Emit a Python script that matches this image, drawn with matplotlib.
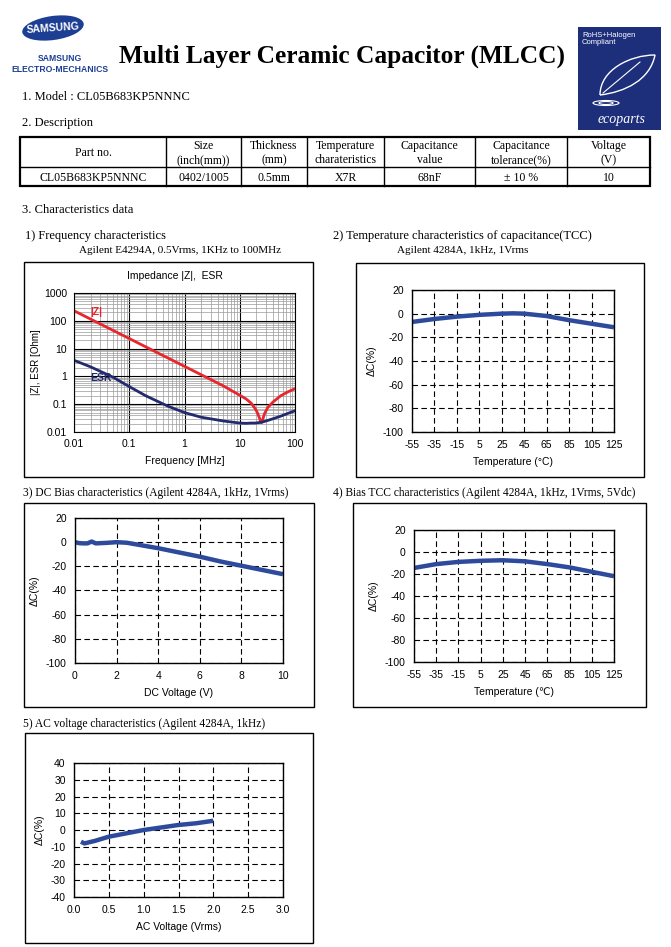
import matplotlib
matplotlib.use("Agg")
import matplotlib.pyplot as plt
from matplotlib.patches import Rectangle, Ellipse, PathPatch
from matplotlib.path import Path
from matplotlib.ticker import FixedLocator, NullFormatter, LogLocator

plt.rcParams["axes.unicode_minus"] = False

# ---------------- data ----------------
table_headers = ["Part no.", "Size\n(inch(mm))", "Thickness\n(mm)", "Temperature\ncharateristics",
                 "Capacitance\nvalue", "Capacitance\ntolerance(%)", "Voltage\n(V)"]
table_values = ["CL05B683KP5NNNC", "0402/1005", "0.5mm", "X7R", "68nF", "\u00b1 10 %", "10"]

freq_mhz = [0.01, 0.02, 0.05, 0.1, 0.2, 0.5, 1, 2, 5, 10, 13, 16, 19, 21, 23, 24, 25, 26, 28, 32, 40, 55, 75, 100]
z_ohm = [230, 115, 46, 23, 11.5, 4.6, 2.3, 1.15, 0.46, 0.21, 0.155, 0.11, 0.07, 0.048, 0.03, 0.023, 0.022, 0.028, 0.045, 0.075, 0.12, 0.2, 0.28, 0.36]
esr_ohm = [3.8, 2.2, 0.95, 0.43, 0.2, 0.085, 0.05, 0.034, 0.025, 0.021, 0.0205, 0.021, 0.021, 0.0215, 0.022, 0.0222, 0.0225, 0.023, 0.024, 0.026, 0.03, 0.037, 0.047, 0.058]
freq_ticks = [0.01, 0.1, 1, 10, 100]
freq_ticklabels = ["0.01", "0.1", "1", "10", "100"]
imp_ticks = [0.01, 0.1, 1, 10, 100, 1000]
imp_ticklabels = ["0.01", "0.1", "1", "10", "100", "1000"]

tcc_temp = [-55, -35, -15, 5, 25, 35, 45, 65, 85, 105, 125]
tcc_dc = [-7, -4.5, -2.5, -1, 0, 0.3, 0, -2, -5.5, -8.5, -11.5]

dcb_volt = [0, 0.2, 0.4, 0.6, 0.8, 1.0, 1.5, 2.0, 2.5, 3.0, 4.0, 5.0, 6.0, 7.0, 8.0, 9.0, 10.0]
dcb_dc = [0, -0.8, -1, -1, 0.5, -1, -0.6, 0, -0.5, -2, -5, -8.5, -12, -16, -19.5, -23, -26.5]

btcc_temp = [-55, -35, -15, 5, 25, 45, 65, 85, 105, 125]
btcc_dc = [-14.5, -11, -9, -8, -7.5, -8.5, -11, -14, -18, -22]

acv_volt = [0.1, 0.15, 0.3, 0.5, 0.75, 1.0, 1.25, 1.5, 1.75, 2.0]
acv_dc = [-7, -8, -6.5, -4, -2, 0, 1.5, 3, 4, 5.5]

temp_ticks = [-55, -35, -15, 5, 25, 45, 65, 85, 105, 125]
dc_ticks_100 = [-100, -80, -60, -40, -20, 0, 20]
dcv_ticks = [0, 2, 4, 6, 8, 10]
acv_ticks = [0.0, 0.5, 1.0, 1.5, 2.0, 2.5, 3.0]
acv_ticklabels = ["0.0", "0.5", "1.0", "1.5", "2.0", "2.5", "3.0"]
ac_dc_ticks = [-40, -30, -20, -10, 0, 10, 20, 30, 40]

# ---------------- figure ----------------
W, H = 671, 947
fig = plt.figure(figsize=(W / 100, H / 100), dpi=100)
SERIF = ["Liberation Serif", "DejaVu Serif"]
SANS = ["Liberation Sans", "DejaVu Sans"]

ov = fig.add_axes([0, 0, 1, 1])
ov.set_xlim(0, W)
ov.set_ylim(H, 0)
ov.axis("off")
ov.patch.set_alpha(0)

def T(x, y, s, size=9, family=SERIF, **kw):
    ov.text(x, y, s, fontsize=size, family=family, **kw)

def box(l, t, r, b, lw=1.0):
    ov.add_patch(Rectangle((l, t), r - l, b - t, fill=False, edgecolor="black", lw=lw))

def add_ax(l, t, r, b):
    return fig.add_axes([l / W, 1 - b / H, (r - l) / W, (b - t) / H])

# Samsung logo
ov.add_patch(Ellipse((53, 28), 62, 24, angle=-8, facecolor="#1c3f94", edgecolor="none"))
T(53, 28, "SAMSUNG", size=7.5, family=SANS, color="white", weight="bold", ha="center", va="center", rotation=4)
T(60, 58, "SAMSUNG", size=6.2, family=SANS, color="#1c3f94", weight="bold", ha="center", va="center")
T(60, 69, "ELECTRO-MECHANICS", size=6.2, family=SANS, color="#1c3f94", weight="bold", ha="center", va="center")

# Title
T(342, 56, "Multi Layer Ceramic Capacitor (MLCC)", size=18.3, weight="bold", ha="center", va="center")

# Ecoparts logo
ov.add_patch(Rectangle((578, 27), 83, 103, facecolor="#1d2e7a", edgecolor="none"))
T(582, 32, "RoHS+Halogen\nCompliant", size=5.5, family=SANS, color="white", va="top", linespacing=0.95)
leaf = Path([(600, 95), (600, 70), (630, 55), (655, 55), (650, 80), (625, 92), (600, 95)],
            [Path.MOVETO, Path.CURVE4, Path.CURVE4, Path.CURVE4, Path.CURVE4, Path.CURVE4, Path.CURVE4])
ov.add_patch(PathPatch(leaf, facecolor="none", edgecolor="white", lw=1.0))
ov.plot([603, 640], [93, 62], color="white", lw=0.8)
ov.add_patch(Ellipse((606, 103), 26, 5, facecolor="none", edgecolor="white", lw=0.8))
ov.add_patch(Ellipse((606, 103), 14, 3, facecolor="none", edgecolor="white", lw=0.8))
T(622, 119, "ecoparts", size=10, color="white", style="italic", ha="center", va="center")

# Sections
T(22, 97, "1. Model : CL05B683KP5NNNC", va="center")
T(22, 123, "2. Description", va="center")

# Table
tl, tr, tt, tm, tb = 20, 650, 137, 167, 186
cols = [20, 166, 241, 307, 384, 475, 567, 650]
ov.add_patch(Rectangle((tl, tt), tr - tl, tb - tt, fill=False, edgecolor="black", lw=1.6))
ov.plot([tl, tr], [tm, tm], color="black", lw=1.0)
for c in cols[1:-1]:
    ov.plot([c, c], [tt, tb], color="black", lw=1.0)
for i in range(7):
    cx = (cols[i] + cols[i + 1]) / 2
    T(cx, (tt + tm) / 2 + 1, table_headers[i], size=8.5, ha="center", va="center", linespacing=1.2)
    T(cx, (tm + tb) / 2 + 1, table_values[i], size=8.5, ha="center", va="center")

T(22, 210, "3. Characteristics data", va="center")

# Chart titles
T(25, 236, "1) Frequency characteristics", va="center")
T(180, 250, "Agilent E4294A, 0.5Vrms, 1KHz to 100MHz", size=8, ha="center", va="center")
T(333, 236, "2) Temperature characteristics of capacitance(TCC)", va="center")
T(463, 250, "Agilent 4284A, 1kHz, 1Vrms", size=8, ha="center", va="center")
T(23, 493, "3) DC Bias characteristics (Agilent 4284A, 1kHz, 1Vrms)", size=8.3, va="center")
T(333, 493, "4) Bias TCC characteristics (Agilent 4284A, 1kHz, 1Vrms, 5Vdc)", size=8.3, va="center")
T(23, 724, "5) AC voltage characteristics (Agilent 4284A, 1kHz)", size=8.3, va="center")

box(24, 262, 313, 477)
box(356, 263, 644, 477)
box(24, 503, 314, 707)
box(353, 503, 646, 707)
box(25, 733, 313, 943)

BLUE = "#2d4a9c"
TS = 7.5

def style_lin(ax, xt, yt, xlim, ylim, xlabel, xtl=None):
    ax.set_xlim(*xlim)
    ax.set_ylim(*ylim)
    ax.set_xticks(xt)
    if xtl is not None:
        ax.set_xticklabels(xtl)
    ax.set_yticks(yt)
    ax.grid(True, color="black", linestyle=(0, (5, 3)), lw=0.8)
    ax.tick_params(length=0, labelsize=TS, pad=6)
    for lab in ax.get_xticklabels() + ax.get_yticklabels():
        lab.set_family(SANS)
    for s in ax.spines.values():
        s.set_lw(1.0)
    ax.set_xlabel(xlabel, fontsize=TS, family=SANS, labelpad=5)
    ax.set_ylabel("\u0394C(%)", fontsize=TS, family=SANS, labelpad=4)

# Chart 1: frequency
T(175, 276, "Impedance |Z|,  ESR", size=7.5, family=SANS, ha="center", va="center")
ax1 = add_ax(74, 293, 295, 432)
ax1.set_xscale("log")
ax1.set_yscale("log")
ax1.set_xlim(0.01, 100)
ax1.set_ylim(0.01, 1000)
ax1.xaxis.set_major_locator(FixedLocator(freq_ticks))
ax1.set_xticklabels(freq_ticklabels)
ax1.yaxis.set_major_locator(FixedLocator(imp_ticks))
ax1.set_yticklabels(imp_ticklabels)
ax1.xaxis.set_minor_locator(LogLocator(base=10, subs=range(2, 10)))
ax1.yaxis.set_minor_locator(LogLocator(base=10, subs=range(2, 10)))
ax1.xaxis.set_minor_formatter(NullFormatter())
ax1.yaxis.set_minor_formatter(NullFormatter())
ax1.grid(True, which="minor", color="#9a9a9a", lw=0.5)
ax1.grid(True, which="major", color="black", lw=0.8)
ax1.tick_params(which="both", length=0, labelsize=TS, pad=5)
for lab in ax1.get_xticklabels() + ax1.get_yticklabels():
    lab.set_family(SANS)
ax1.plot(freq_mhz, z_ohm, color="#e8262d", lw=2.0)
ax1.plot(freq_mhz, esr_ohm, color="#232a6e", lw=2.0)
ax1.text(0.02, 200, "|Z|", color="#e8262d", fontsize=7.5, weight="bold", family=SANS, va="center")
ax1.text(0.02, 0.85, "ESR", color="#232a6e", fontsize=7.5, weight="bold", family=SANS, va="center")
ax1.set_xlabel("Frequency [MHz]", fontsize=TS, family=SANS, labelpad=5)
ax1.set_ylabel("|Z|, ESR [Ohm]", fontsize=7, family=SANS, labelpad=2)

# Chart 2: TCC
ax2 = add_ax(412, 290, 614, 432)
style_lin(ax2, temp_ticks, dc_ticks_100, (-55, 125), (-100, 20), "Temperature (\u00b0C)")
ax2.plot(tcc_temp, tcc_dc, color=BLUE, lw=3.2, solid_capstyle="butt")

# Chart 3: DC bias
ax3 = add_ax(75, 518, 283, 663)
style_lin(ax3, dcv_ticks, dc_ticks_100, (0, 10), (-100, 20), "DC Voltage (V)")
ax3.plot(dcb_volt, dcb_dc, color=BLUE, lw=3.2, solid_capstyle="butt")

# Chart 4: Bias TCC
ax4 = add_ax(414, 530, 614, 662)
style_lin(ax4, temp_ticks, dc_ticks_100, (-55, 125), (-100, 20), "Temperature (\u2103)")
ax4.plot(btcc_temp, btcc_dc, color=BLUE, lw=3.2, solid_capstyle="butt")

# Chart 5: AC voltage
ax5 = add_ax(74, 763, 283, 897)
style_lin(ax5, acv_ticks, ac_dc_ticks, (0, 3), (-40, 40), "AC Voltage (Vrms)", acv_ticklabels)
ax5.plot(acv_volt, acv_dc, color=BLUE, lw=3.2, solid_capstyle="butt")

fig.savefig("out.png", dpi=100)
